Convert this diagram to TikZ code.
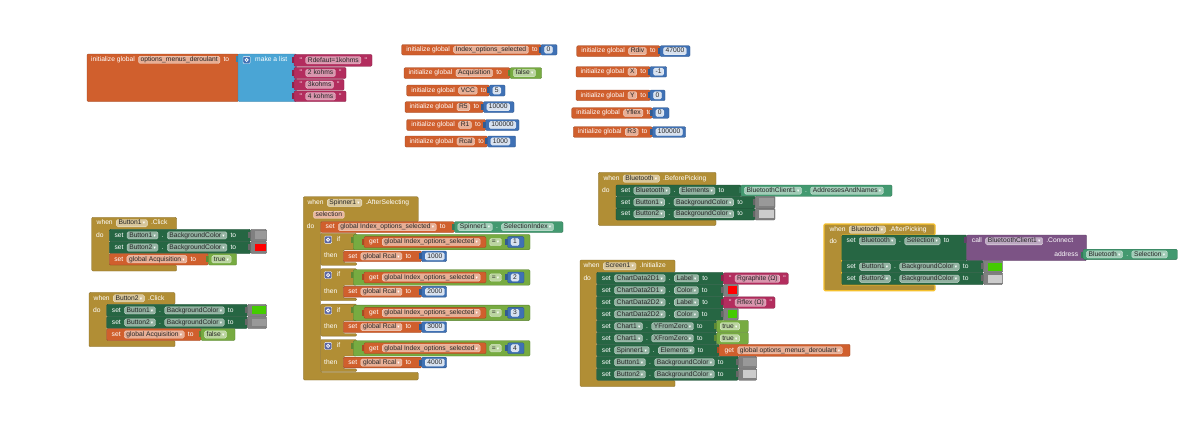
\documentclass[tikz,border=0pt]{standalone}
\usepackage{fontspec}
\usetikzlibrary{positioning}
\newfontfamily\blkf{Liberation Sans}
\newfontfamily\symf{DejaVu Sans}
\newcommand\lbf{\blkf\fontsize{6.7}{7}\selectfont}
\newcommand\dar{\hspace{1.2pt}\textcolor{white}{\symf\fontsize{4.6}{5}\selectfont ▾}}

\definecolor{orng}{HTML}{D05F2D}
\definecolor{mblu}{HTML}{4AA5D5}
\definecolor{nblu}{HTML}{3F71B5}
\definecolor{pnk}{HTML}{B32D5E}
\definecolor{lgr}{HTML}{77AB41}
\definecolor{dgr}{HTML}{266643}
\definecolor{tl}{HTML}{439970}
\definecolor{gold}{HTML}{B18E35}
\definecolor{prp}{HTML}{7C5385}
\definecolor{gearp}{HTML}{5B67A5}
\definecolor{swc}{HTML}{808080}
\definecolor{swm}{HTML}{999999}
\definecolor{swr}{HTML}{FF0000}
\definecolor{swgn}{HTML}{44CC00}
\definecolor{swl}{HTML}{CCCCCC}
\definecolor{hl}{HTML}{F5C02C}

\tikzset{
  blk/.style={fill=#1, draw=#1!75!black, line width=0.35pt, rounded corners=1.2pt},
  lab/.style={inner sep=0pt, text=white, font=\lbf, text height=4.9pt, text depth=1.4pt},
  fld/.style={inner xsep=2.2pt, inner ysep=0.5pt, rounded corners=1.5pt, fill=white,
              fill opacity=.5, draw=white, draw opacity=.7, line width=0.3pt,
              text opacity=1, text=black!85, font=\lbf,
              text height=4.9pt, text depth=1.4pt},
  ef/.style={fld, fill opacity=.8},
  pfld/.style={fld, fill=orng!45!white, fill opacity=1},
}

% text nodes placed in a row, each one right of the previous
\newcounter{tk}
\newcommand\nn{\stepcounter{tk}\edef\cur{t\arabic{tk}}}
\newcommand\rw[3]{\nn\node[lab,anchor=west] (\cur) at ({#1},{#2}) {#3};}
\newcommand\rf[4][fld]{\nn\node[#1,anchor=west] (\cur) at ({#2},{#3}) {#4};}
\newcommand\rd[3]{\rf{#1}{#2}{#3\dar}}
\newcommand\nw[1]{\edef\prv{\cur}\nn\node[lab,right=of \prv] (\cur) {#1};}
\newcommand\nf[2][fld]{\edef\prv{\cur}\nn\node[#1,right=of \prv] (\cur) {#2};}
\newcommand\nd[1]{\nf{#1\dar}}

% block shapes
\newcommand\bk[5]{\path[blk=#5] ({#1},{#2}) rectangle ({#3},{#4});}
\newcommand\vb[5]{\fill[#5!80!black] ({#1-2.3},{#2+2.3}) rectangle ({#1+1},{#2+8.3});
  \path[blk=#5] ({#1},{#2}) rectangle ({#3},{#4});}
\newcommand\gear[3]{\path[fill=#3, draw=white, line width=0.4pt, rounded corners=1pt]
  ({#1},{#2}) rectangle ({#1+7.2},{#2+7.2});
  \draw[white, line width=0.8pt] ({#1+3.6},{#2+3.6}) circle [radius=1.6];}
\newcommand\evb[7]{\path[blk=gold] ({#1},{#2}) -- ({#3},{#2}) -- ({#3},{#4}) -- ({#5},{#4})
  -- ({#5},{#6}) -- ({#3},{#6}) -- ({#3},{#7}) -- ({#1},{#7}) -- cycle;}

% composite blocks
\newcommand\inib[5]{\bk{#1}{#2}{#3}{#4}{orng}\rw{#1+4.5}{(#2+#4)/2}{initialize global}\nf{#5}\nw{to}}
\newcommand\numb[5]{\vb{#1}{#2}{#3}{#4}{nblu}\rf[ef]{#1+3.3}{(#2+#4)/2}{#5}}
\newcommand\logb[5]{\vb{#1}{#2}{#3}{#4}{lgr}\rd{#1+3.3}{(#2+#4)/2}{#5}}
\newcommand\strb[5]{\vb{#1}{#2}{#3}{#4}{pnk}\rw{#1+5.5}{(#2+#4)/2}{"}\nf{#5}\nw{"}}
\newcommand\setb[6]{\bk{#1}{#2}{#3}{#4}{dgr}\rw{#1+5}{(#2+#4)/2}{set}\nd{#5}\nw{.}\nd{#6}\nw{to}}
\newcommand\vsetb[5]{\bk{#1}{#2}{#3}{#4}{orng}\rw{#1+4.8}{(#2+#4)/2}{set}\nd{global #5}\nw{to}}
\newcommand\tgetb[6]{\vb{#1}{#2}{#3}{#4}{tl}\rd{#1+3.3}{(#2+#4)/2}{#5}\nw{.}\nd{#6}}
\newcommand\swb[5]{\vb{#1}{#2}{#3}{#4}{swc}\fill[#5] ({#1+4.2},{#2+2.1}) rectangle ({#3-1},{#4-2.1});}
\newcommand\ifb[3]{%
  \path[blk=gold] (320.7,{#1}) -- (356.7,{#1}) -- (356.7,{#1+16.5}) -- (343.3,{#1+16.5})
    -- (343.3,{#1+29.4}) -- (356.7,{#1+29.4}) -- (356.7,{#1+32}) -- (320.7,{#1+32}) -- cycle;
  \gear{324.5}{#1+2.8}{gearp}
  \rw{336.7}{#1+6.4}{if}
  \vb{353.3}{#1+1}{530}{#1+16.5}{lgr}
  \vb{364}{#1+3.3}{486}{#1+14.2}{orng}
  \rw{369}{#1+8.75}{get}\nd{global Index\_options\_selected}
  \rd{489.5}{#1+8.75}{=}
  \numb{507.5}{#1+3.3}{524}{#1+14.2}{#2}
  \rw{324}{#1+22.8}{then}
  \vsetb{343.3}{#1+17.7}{421.7}{#1+28.4}{Rcal}
  \numb{421.7}{#1+17.7}{446.7}{#1+28.4}{#3}}

\begin{document}
\begin{tikzpicture}[x=1pt, y=-1pt, node distance=3.3pt]
\useasboundingbox (0,0) rectangle (1200,442);
\fill[white] (0,0) rectangle (1200,442);

% list of drop-down options
\bk{87}{54}{238.5}{101.5}{orng}
\vb{238}{54}{296.5}{101.5}{mblu}
\rw{91}{59.8}{initialize global}\nf{options\_menus\_deroulant}\nw{to}
\gear{243}{56.3}{nblu}
\rw{255}{59.8}{make a list}
\strb{294}{54.3}{372}{66.3}{Rdefaut=1kohms}
\strb{294}{67.3}{346}{78.5}{2 kohms}
\strb{294}{79.3}{344}{90.2}{3kohms}
\strb{294}{91}{346}{101.7}{4 kohms}

% global variables, first column
\inib{401.7}{44.5}{541}{55}{Index\_options\_selected}\numb{541}{44.5}{557}{55}{0}
\inib{404}{67.7}{510}{78.5}{Acquisition}\logb{510}{67.7}{541.7}{78.5}{false}
\inib{406.7}{85}{489.3}{96}{VCC}\numb{489.3}{85}{505}{96}{5}
\inib{405}{101.7}{483.3}{112.5}{R5}\numb{483.3}{101.7}{514}{112.5}{10000}
\inib{406.7}{119.5}{485.7}{130.5}{R1}\numb{485.7}{119.5}{519}{130.5}{100000}
\inib{405}{136}{487.3}{147}{Rcal}\numb{487.3}{136}{515.7}{147}{1000}

% global variables, second column
\inib{576.7}{45.7}{660}{56.5}{Rdiv}\numb{660}{45.7}{690}{56.5}{47000}
\inib{576}{66.5}{650}{77}{X}\numb{650}{66.5}{666.7}{77}{-1}
\inib{576}{90}{650}{100.7}{Y}\numb{650}{90}{665}{100.7}{0}
\inib{571.7}{107.7}{652.3}{118.3}{Yflex}\numb{652.3}{107.7}{669}{118.3}{0}
\inib{573.3}{126.7}{652.3}{137.3}{R3}\numb{652.3}{126.7}{685.7}{137.3}{100000}

% Button1.Click
\evb{91.7}{217.3}{176.7}{229.3}{109.3}{265}{271}
\rw{96.5}{223.2}{when}\nd{Button1}\nw{.Click}
\rw{96}{235.4}{do}
\setb{109.3}{229.3}{250.7}{241.5}{Button1}{BackgroundColor}\swb{250.7}{229.3}{266.7}{241.5}{swm}
\setb{109.3}{241.5}{250.7}{253.5}{Button2}{BackgroundColor}\swb{250.7}{241.5}{266.7}{253.5}{swr}
\vsetb{109.3}{253.5}{208.3}{265}{Acquisition}\logb{208.3}{253.5}{236.7}{265}{true}

% Button2.Click
\evb{89}{292.3}{175}{304.3}{106.7}{340.5}{346.7}
\rw{93.5}{298.3}{when}\nd{Button2}\nw{.Click}
\rw{93}{310.4}{do}
\setb{106.7}{304.3}{247.3}{316.5}{Button1}{BackgroundColor}\swb{247.3}{304.3}{266.7}{316.5}{swgn}
\setb{106.7}{316.5}{247.3}{328.5}{Button2}{BackgroundColor}\swb{247.3}{316.5}{266.7}{328.5}{swm}
\vsetb{106.7}{328.5}{201}{340.5}{Acquisition}\logb{201}{328.5}{235}{340.5}{false}

% Spinner1.AfterSelecting
\evb{303.3}{196.7}{418.3}{221.7}{320.7}{372.3}{380}
\rw{307.3}{202.7}{when}\nd{Spinner1}\nw{.AfterSelecting}
\rf[pfld]{313.3}{214.8}{selection}
\rw{306.7}{227.1}{do}
\vsetb{320.7}{221.7}{454.3}{232.5}{Index\_options\_selected}
\tgetb{454.3}{221.7}{563}{232.5}{Spinner1}{SelectionIndex}
\ifb{233.3}{1}{1000}
\ifb{268.7}{2}{2000}
\ifb{304.1}{3}{3000}
\ifb{339.5}{4}{4000}

% Bluetooth.BeforePicking
\evb{598.3}{172.3}{716}{185}{616}{220}{225.5}
\rw{603.3}{178.6}{when}\nd{Bluetooth}\nw{.BeforePicking}
\rw{602}{190.6}{do}
\setb{616}{185}{741}{196.3}{Bluetooth}{Elements}
\tgetb{741}{185}{892}{196.3}{BluetoothClient1}{AddressesAndNames}
\setb{616}{196.3}{755}{208.2}{Button1}{BackgroundColor}\swb{755}{196.3}{775}{208.2}{swm}
\setb{616}{208.2}{755}{220}{Button2}{BackgroundColor}\swb{755}{208.2}{775}{220}{swl}

% Screen1.Initialize
\evb{580}{260}{675}{272.3}{596.7}{380.3}{386.7}
\rw{583.3}{266.2}{when}\nd{Screen1}\nw{.Initialize}
\rw{583.3}{278.3}{do}
\setb{596.7}{272.3}{723.3}{284.3}{ChartData2D1}{Label}\strb{723.3}{272.9}{788.3}{284.3}{Rgraphite (Ω)}
\setb{596.7}{284.3}{723.3}{296.3}{ChartData2D1}{Color}\swb{723.3}{284.3}{738.3}{296.3}{swr}
\setb{596.7}{296.3}{723.3}{308.3}{ChartData2D2}{Label}\strb{723.3}{296.9}{775}{308.3}{Rflex (Ω)}
\setb{596.7}{308.3}{723.3}{320.3}{ChartData2D2}{Color}\swb{723.3}{308.3}{738.3}{320.3}{swgn}
\setb{596.7}{320.3}{716.7}{332.3}{Chart1}{YFromZero}\logb{716.7}{320.3}{748.3}{332.3}{true}
\setb{596.7}{332.3}{716.7}{344.3}{Chart1}{XFromZero}\logb{716.7}{332.3}{748.3}{344.3}{true}
\setb{596.7}{344.3}{719}{356.3}{Spinner1}{Elements}
\vb{719}{344.3}{850}{356.3}{orng}\rw{724.5}{350.3}{get}\nd{global options\_menus\_deroulant}
\setb{596.7}{356.3}{738.3}{368.3}{Button1}{BackgroundColor}\swb{738.3}{356.3}{756.7}{368.3}{swm}
\setb{596.7}{368.3}{738.3}{380.3}{Button2}{BackgroundColor}\swb{738.3}{368.3}{756.7}{380.3}{swl}

% Bluetooth.AfterPicking (selected block, highlighted outline)
\path[blk=gold, draw=hl, line width=1.2pt] (824,224) -- (935,224) -- (935,235) -- (841.7,235)
  -- (841.7,284.7) -- (935,284.7) -- (935,290.7) -- (824,290.7) -- cycle;
\rw{829.3}{229.6}{when}\nd{Bluetooth}\nw{.AfterPicking}
\rw{829.3}{241.6}{do}
\bk{841.7}{235}{966.7}{260.7}{dgr}
\rw{846.5}{241.2}{set}\nd{Bluetooth}\nw{.}\nd{Selection}\nw{to}
\vb{966.7}{235}{1086.7}{260.7}{prp}
\rw{971.7}{241.2}{call}\nd{BluetoothClient1}\nw{.Connect}
\node[lab,anchor=east] (addr) at (1078.3,254.4) {address};
\tgetb{1083}{249.2}{1177.3}{259.6}{Bluetooth}{Selection}
\setb{841.7}{260.7}{983.3}{272.7}{Button1}{BackgroundColor}\swb{983.3}{260.7}{1002.7}{272.7}{swgn}
\setb{841.7}{272.7}{983.3}{284.7}{Button2}{BackgroundColor}\swb{983.3}{272.7}{1002.7}{284.7}{swl}
\end{tikzpicture}
\end{document}
